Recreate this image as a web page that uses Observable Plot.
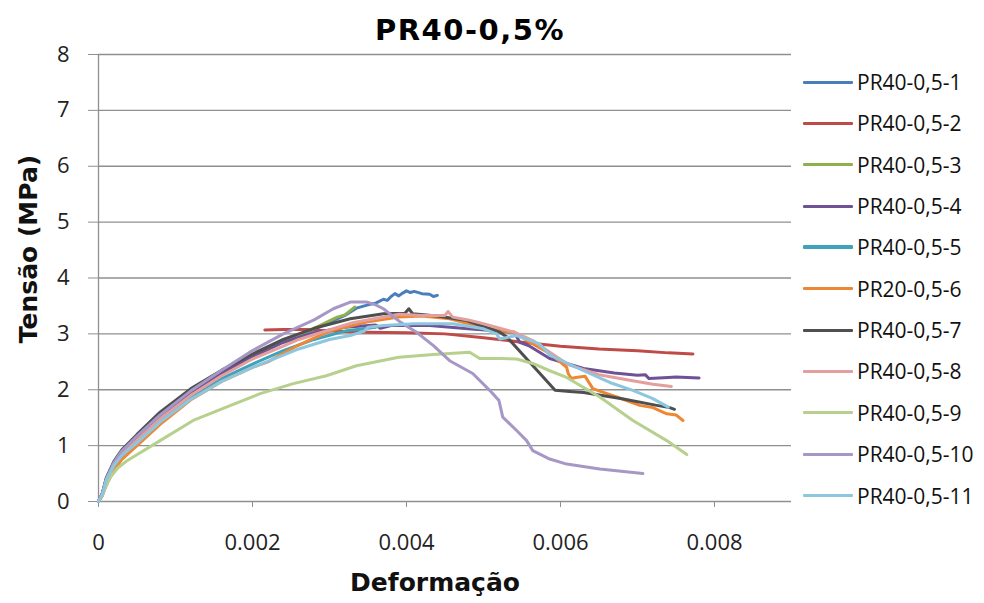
<!DOCTYPE html>
<html><head><meta charset="utf-8">
<script src="https://cdn.jsdelivr.net/npm/d3@7"></script>
<script src="https://cdn.jsdelivr.net/npm/@observablehq/plot@0.6"></script>
<style>
body{margin:0;background:#fff;}
#wrap{position:relative;width:984px;height:603px;overflow:hidden;font-family:"Open Sans",sans-serif;background:#fff;}
#title{position:absolute;left:0;top:0;width:940px;height:46px;text-align:center;font-family:"DejaVu Sans",sans-serif;font-weight:bold;font-size:29px;letter-spacing:1.5px;line-height:60px;color:#000;}
#chart{position:absolute;left:0;top:46px;}
#xlabel{position:absolute;left:235px;width:400px;top:566px;text-align:center;font-family:"DejaVu Sans",sans-serif;font-weight:bold;font-size:25px;line-height:34px;color:#111;}
#ylabel{position:absolute;left:28px;top:249px;transform:translate(-50%,-50%) rotate(-90deg);white-space:nowrap;font-family:"DejaVu Sans",sans-serif;font-weight:bold;font-size:25px;color:#111;}
.lg{position:absolute;left:803px;height:28px;display:flex;align-items:center;font-size:21px;color:#111;white-space:nowrap;}
.lg span.sw{display:inline-block;width:50px;margin-right:4px;border-radius:1px;}
</style></head><body>
<div id="wrap">
 <div id="title">PR40-0,5%</div>
 <div id="chart"></div>
 <div id="xlabel">Deformação</div>
 <div id="ylabel">Tensão (MPa)</div>
 <div id="legend"></div>
</div>
<script>
const seriesNames = ["PR40-0,5-1","PR40-0,5-2","PR40-0,5-3","PR40-0,5-4","PR40-0,5-5","PR20-0,5-6","PR40-0,5-7","PR40-0,5-8","PR40-0,5-9","PR40-0,5-10","PR40-0,5-11"];
const seriesColors = ["#4A7EBB","#BE4B48","#8FB04E","#6F5295","#3FA2BD","#EE8733","#4F4F4F","#E39F9D","#B7D08E","#A797C6","#8CC6DF"];
const xTicks = [0,0.002,0.004,0.006,0.008];
const xTickLabels = ["0","0.002","0.004","0.006","0.008"];
const yTicks = [0,1,2,3,4,5,6,7,8];

const s1 = [[0,0],[0.00005,0.13],[0.0001,0.38],[0.0002,0.66],[0.0003,0.86],[0.0005,1.12],[0.0008,1.52],[0.0012,1.95],[0.0016,2.3],[0.002,2.6],[0.0024,2.85],[0.0028,3.08],[0.0032,3.33],[0.00335,3.46],[0.0035,3.52],[0.0036,3.55],[0.0037,3.62],[0.00375,3.6],[0.0038,3.67],[0.00385,3.72],[0.0039,3.68],[0.00395,3.73],[0.004,3.77],[0.00405,3.74],[0.0041,3.76],[0.0042,3.72],[0.0043,3.71],[0.00435,3.67],[0.0044,3.69]];
const s2 = [[0.00216,3.07],[0.0024,3.08],[0.0027,3.08],[0.003,3.05],[0.0035,3.03],[0.004,3.02],[0.0045,3.0],[0.005,2.93],[0.0055,2.85],[0.006,2.78],[0.0065,2.73],[0.007,2.7],[0.0074,2.66],[0.00772,2.64]];
const s3 = [[0,0],[0.00005,0.12],[0.0001,0.35],[0.0002,0.62],[0.0003,0.82],[0.0005,1.07],[0.0008,1.45],[0.0012,1.9],[0.0016,2.27],[0.002,2.58],[0.0024,2.86],[0.0028,3.1],[0.0031,3.3],[0.0032,3.34],[0.00333,3.48]];
const s4 = [[0,0],[0.00005,0.14],[0.0001,0.4],[0.0002,0.7],[0.0003,0.9],[0.0005,1.15],[0.0008,1.55],[0.0012,1.96],[0.0016,2.3],[0.002,2.6],[0.0024,2.85],[0.0028,3.02],[0.0032,3.12],[0.0036,3.16],[0.00366,3.1],[0.0038,3.15],[0.0043,3.15],[0.0048,3.09],[0.0052,3.05],[0.0054,3.03],[0.00547,2.85],[0.0056,2.78],[0.00586,2.56],[0.0063,2.38],[0.0067,2.3],[0.007,2.26],[0.0071,2.27],[0.00715,2.2],[0.0074,2.22],[0.0075,2.23],[0.0078,2.21]];
const s5 = [[0,0],[0.00005,0.12],[0.0001,0.37],[0.0002,0.64],[0.0003,0.82],[0.0005,1.06],[0.0008,1.44],[0.0012,1.86],[0.0016,2.2],[0.002,2.46],[0.0024,2.7],[0.0028,2.9],[0.0032,3.05],[0.0036,3.12]];
const s6 = [[0,0],[0.00005,0.1],[0.0001,0.3],[0.0002,0.55],[0.0003,0.75],[0.0005,1.0],[0.0008,1.38],[0.0012,1.82],[0.0016,2.15],[0.002,2.4],[0.0022,2.5],[0.0024,2.65],[0.0026,2.8],[0.003,3.05],[0.00348,3.21],[0.0039,3.3],[0.0042,3.32],[0.00456,3.27],[0.0049,3.15],[0.0052,3.06],[0.0054,3.03],[0.0056,2.85],[0.00586,2.65],[0.00608,2.4],[0.0061,2.29],[0.00614,2.2],[0.0062,2.22],[0.00632,2.24],[0.00642,2.02],[0.0065,1.98],[0.00673,1.87],[0.00703,1.72],[0.0072,1.68],[0.00738,1.57],[0.0075,1.55],[0.00759,1.45]];
const s7 = [[0,0],[0.00005,0.15],[0.0001,0.42],[0.0002,0.72],[0.0003,0.92],[0.0005,1.2],[0.0008,1.6],[0.0012,2.02],[0.0016,2.35],[0.002,2.64],[0.0024,2.9],[0.0028,3.1],[0.00327,3.27],[0.0037,3.36],[0.00398,3.37],[0.00403,3.45],[0.00408,3.36],[0.0044,3.32],[0.00478,3.24],[0.00521,3.03],[0.0053,2.95],[0.00593,1.99],[0.00612,1.97],[0.0063,1.95],[0.0068,1.84],[0.00725,1.72],[0.00742,1.68],[0.00748,1.65]];
const s8 = [[0,0],[0.00005,0.12],[0.0001,0.36],[0.0002,0.64],[0.0003,0.84],[0.0005,1.1],[0.0008,1.48],[0.0012,1.9],[0.0016,2.25],[0.002,2.55],[0.0024,2.78],[0.0026,2.9],[0.0033,3.2],[0.0039,3.35],[0.0042,3.33],[0.0045,3.33],[0.00454,3.4],[0.0046,3.3],[0.0048,3.25],[0.005,3.18],[0.0054,3.03],[0.00564,2.88],[0.00586,2.67],[0.0061,2.45],[0.0065,2.27],[0.0069,2.17],[0.0072,2.1],[0.00744,2.06]];
const s9 = [[0,0],[0.00005,0.12],[0.0001,0.27],[0.00015,0.43],[0.00025,0.6],[0.00037,0.73],[0.0008,1.09],[0.00123,1.45],[0.00166,1.69],[0.0021,1.93],[0.00253,2.11],[0.00296,2.25],[0.00335,2.43],[0.0039,2.58],[0.00435,2.63],[0.00482,2.67],[0.00495,2.56],[0.00522,2.56],[0.00543,2.55],[0.00564,2.47],[0.00586,2.34],[0.00608,2.22],[0.00651,1.87],[0.00694,1.45],[0.00738,1.09],[0.00764,0.84]];
const s10 = [[0,0],[0.00005,0.15],[0.0001,0.4],[0.0002,0.7],[0.0003,0.9],[0.0005,1.17],[0.0008,1.55],[0.0012,1.98],[0.0016,2.35],[0.002,2.7],[0.0024,3.0],[0.0028,3.25],[0.00305,3.45],[0.00327,3.57],[0.00348,3.57],[0.0036,3.52],[0.0037,3.45],[0.00392,3.21],[0.00413,3.03],[0.00435,2.79],[0.00456,2.52],[0.00486,2.29],[0.00508,1.99],[0.0052,1.81],[0.00525,1.51],[0.00543,1.27],[0.00556,1.09],[0.00564,0.91],[0.00586,0.76],[0.00608,0.67],[0.00651,0.58],[0.00707,0.5]];
const s11 = [[0,0],[0.00005,0.12],[0.0001,0.38],[0.0002,0.65],[0.0003,0.82],[0.0005,1.05],[0.0008,1.42],[0.0012,1.83],[0.0016,2.15],[0.002,2.4],[0.0024,2.62],[0.0026,2.73],[0.003,2.9],[0.00327,2.97],[0.00345,3.05],[0.0035,3.12],[0.0037,3.15],[0.0041,3.18],[0.0046,3.18],[0.005,3.09],[0.00517,3.0],[0.00521,2.91],[0.00543,2.97],[0.00573,2.82],[0.00586,2.62],[0.0063,2.34],[0.00664,2.13],[0.00694,1.99],[0.0072,1.84],[0.0074,1.69]];

const seriesList = [s1,s2,s3,s4,s5,s6,s7,s8,s9,s10,s11];
const data = [];
seriesList.forEach((s, i) => s.forEach(([x, y]) => data.push({series: seriesNames[i], x, y})));

const grid = "#8f8f8f";
const xFmt = d => xTickLabels[xTicks.indexOf(d)] ?? String(d);
const plot = Plot.plot({
  width: 800, height: 557,
  marginTop: 8, marginBottom: 102, marginLeft: 98, marginRight: 9,
  style: {fontFamily: "'Open Sans', sans-serif", fontSize: "22px", color: "#222", background: "white", overflow: "visible"},
  x: {domain: [0, 0.009], ticks: xTicks, tickFormat: xFmt},
  y: {domain: [0, 8], ticks: yTicks},
  color: {domain: seriesNames, range: seriesColors},
  marks: [
    Plot.ruleY(yTicks.filter(d => d > 0), {stroke: grid, strokeWidth: 1.3}),
    Plot.axisY({ticks: yTicks, tickSize: 10, tickPadding: 19, stroke: grid, fill: "#222", label: null, fontSize: 22}),
    Plot.axisX({ticks: xTicks, tickFormat: xFmt, tickSize: 6, tickPadding: 27, stroke: grid, fill: "#222", label: null, fontSize: 22}),
    Plot.ruleX([0], {stroke: grid, strokeWidth: 1.3}),
    Plot.ruleY([0], {stroke: grid, strokeWidth: 1.3}),
    Plot.line(data, {x: "x", y: "y", z: "series", stroke: "series", strokeWidth: 3, strokeLinejoin: "round", strokeLinecap: "round"})
  ]
});
document.getElementById("chart").appendChild(plot);

const lg = document.getElementById("legend");
seriesNames.forEach((n, i) => {
  const row = document.createElement("div");
  row.className = "lg";
  row.style.top = (82 + i * 41.35 - 14) + "px";
  const sw = document.createElement("span");
  sw.className = "sw";
  sw.style.height = (i === 4 ? 4 : 3) + "px";
  sw.style.background = seriesColors[i];
  row.appendChild(sw);
  const t = document.createElement("span");
  t.textContent = n;
  row.appendChild(t);
  lg.appendChild(row);
});
</script>
</body></html>
